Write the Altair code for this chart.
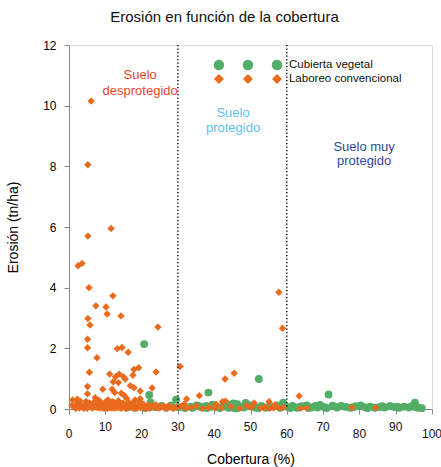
import altair as alt
import pandas as pd

# ---- data ----
# Laboreo convencional (orange diamonds): (cobertura %, erosion tn/ha)
laboreo_points = [
    (6.1, 10.15), (5.2, 8.05), (5.2, 5.7), (11.6, 5.95), (2.5, 4.72), (3.6, 4.8),
    (5.5, 4.0), (12.1, 3.73), (7.4, 3.4), (10.2, 3.36), (10.5, 3.13), (14.3, 3.07),
    (5.2, 2.98), (5.8, 2.77), (24.5, 2.7), (5.1, 2.3), (5.1, 2.02), (13.3, 1.99),
    (14.6, 2.03), (7.7, 1.69), (16.3, 1.87), (30.6, 1.40), (17.9, 1.3), (19.2, 1.36),
    (5.6, 1.21), (11.2, 1.15), (13.8, 1.15), (12.8, 1.06), (15.0, 1.06), (15.5, 0.99),
    (17.6, 1.11), (24.0, 1.22), (12.2, 0.9), (13.6, 0.87), (16.9, 0.77), (17.9, 0.7),
    (5.1, 0.74), (5.1, 0.5), (9.3, 0.65), (11.9, 0.65), (12.6, 0.54), (14.4, 0.52),
    (15.2, 0.45), (19.6, 0.59), (22.9, 0.69), (1.0, 0.3), (2.3, 0.32), (7.2, 0.37),
    (15.9, 0.35), (19.6, 0.34), (18.2, 0.3), (32.4, 0.33), (35.9, 0.44), (43.0, 0.99),
    (45.5, 1.18), (57.8, 3.85), (58.8, 2.66), (63.4, 0.43), (31.7, 0.16), (40.5, 0.16),
    (42.3, 0.24), (43.1, 0.26), (51.0, 0.2), (55.1, 0.24), (48.9, 0.11), (56.7, 0.13),
    (77.9, 0.05), (63.7, 0.02),
    (1.5, 0.05), (2.2, 0.20), (2.9, 0.03), (3.4, 0.12), (4.1, 0.02), (4.7, 0.25),
    (5.3, 0.08), (5.9, 0.15), (6.4, 0.03), (6.9, 0.22), (7.4, 0.10), (7.9, 0.04),
    (8.3, 0.28), (8.8, 0.14), (9.2, 0.06), (9.6, 0.02), (10.0, 0.18), (10.4, 0.09),
    (10.8, 0.30), (11.2, 0.05), (11.6, 0.13), (12.0, 0.24), (12.4, 0.03), (12.8, 0.16),
    (13.2, 0.07), (13.6, 0.27), (14.0, 0.11), (14.4, 0.02), (14.9, 0.19), (15.4, 0.08),
    (15.9, 0.04), (16.4, 0.22), (17.0, 0.12), (17.6, 0.03), (18.2, 0.15), (18.8, 0.06),
    (19.5, 0.25), (20.2, 0.09), (21.0, 0.02), (21.8, 0.13), (22.6, 0.05), (23.4, 0.10),
    (24.3, 0.03), (25.3, 0.07), (26.4, 0.04), (27.5, 0.11), (28.6, 0.02), (29.6, 0.06),
    (30.8, 0.08), (32.2, 0.03), (33.6, 0.05), (35.0, 0.10), (36.8, 0.02), (38.5, 0.06),
    (40.2, 0.03), (42.0, 0.04), (44.6, 0.08), (47.0, 0.02), (50.2, 0.05), (52.8, 0.03),
    (54.0, 0.06), (55.2, 0.02), (56.4, 0.04), (57.8, 0.03), (59.0, 0.05), (65.5, 0.03),
    (84.5, 0.04),
    (0.8, 0.12), (1.9, 0.02), (2.6, 0.10), (3.1, 0.26), (3.8, 0.07), (4.4, 0.15),
    (5.0, 0.02), (5.6, 0.20), (6.2, 0.10), (6.7, 0.05), (7.2, 0.16), (7.7, 0.25),
    (8.1, 0.08), (8.6, 0.03), (9.0, 0.20), (9.4, 0.12), (9.9, 0.05), (10.3, 0.26),
    (10.6, 0.02), (11.0, 0.17), (11.4, 0.09), (11.8, 0.03), (12.2, 0.12), (12.6, 0.21),
    (13.0, 0.04), (13.4, 0.14), (13.8, 0.05), (14.2, 0.20), (14.7, 0.08), (15.2, 0.14),
    (15.7, 0.02), (16.2, 0.10), (16.8, 0.05), (17.3, 0.18), (17.9, 0.08), (18.5, 0.02),
    (19.1, 0.12), (19.8, 0.05), (20.6, 0.15), (21.4, 0.07), (22.2, 0.02), (23.0, 0.08),
    (24.0, 0.13), (25.0, 0.03), (26.0, 0.09), (27.0, 0.02), (28.0, 0.07), (29.0, 0.03),
]

# Cubierta vegetal (green circles)
cubierta_points = [
    (20.7, 2.14), (22.1, 0.46), (22.5, 0.22), (29.5, 0.31), (38.4, 0.54), (52.3, 0.99),
    (71.5, 0.48), (95.3, 0.21), (48.7, 0.2), (59.0, 0.21), (16.9, 0.12), (43.5, 0.16),
    (15.8, 0.05), (17.0, 0.10), (18.3, 0.04), (19.6, 0.08), (21.0, 0.03), (23.8, 0.06),
    (25.5, 0.10), (26.8, 0.04), (28.2, 0.12), (30.2, 0.06), (32.0, 0.03), (33.5, 0.08),
    (35.2, 0.12), (36.6, 0.05), (37.8, 0.10), (39.5, 0.14), (40.8, 0.06), (42.4, 0.10),
    (44.0, 0.04), (45.3, 0.18), (46.4, 0.16), (47.5, 0.07), (49.8, 0.12), (51.4, 0.05),
    (53.0, 0.10), (54.2, 0.04), (56.0, 0.08), (57.3, 0.12), (60.4, 0.06), (61.6, 0.10),
    (62.8, 0.04), (64.2, 0.09), (65.5, 0.12), (66.8, 0.05), (67.9, 0.10), (69.2, 0.13),
    (70.4, 0.06), (72.6, 0.11), (73.8, 0.05), (75.0, 0.10), (76.3, 0.07), (77.6, 0.04),
    (79.0, 0.09), (80.4, 0.12), (81.7, 0.05), (83.0, 0.08), (84.3, 0.04), (85.6, 0.07),
    (87.0, 0.05), (88.5, 0.10), (89.8, 0.06), (91.0, 0.04), (92.3, 0.08), (93.6, 0.05),
    (94.4, 0.09), (96.2, 0.04), (97.2, 0.03),
    (34.0, 0.04), (36.0, 0.09), (38.0, 0.03), (39.0, 0.07), (41.5, 0.03), (43.0, 0.08),
    (45.0, 0.05), (46.0, 0.02), (48.2, 0.05), (50.5, 0.08), (52.0, 0.03), (55.0, 0.06),
    (58.2, 0.04), (61.0, 0.03), (63.5, 0.07), (66.0, 0.03), (68.5, 0.05), (71.0, 0.03),
    (74.4, 0.08), (78.2, 0.06), (82.3, 0.03), (86.3, 0.09), (90.4, 0.08), (95.6, 0.06),
]

thresholds = [30, 60]
x_ticks = list(range(0, 101, 10))
x_labels_high = [10, 30, 50, 70, 90]
x_labels_low = [0, 20, 40, 60, 80, 100]
y_ticks = list(range(0, 13, 2))

zone_lines = ["Suelo", "desprotegido", "Suelo", "protegido", "Suelo muy", "protegido"]
zone_x = [19.6, 19.6, 45.2, 45.2, 81.3, 81.3]
zone_y = [11.0, 10.48, 9.76, 9.26, 8.64, 8.16]
zone_color = ["#E8472E", "#E8472E", "#5BC3EE", "#5BC3EE", "#33489C", "#33489C"]

legend_sym_x = [41.3, 49.3, 57.3]
legend_labels = ["Cubierta vegetal", "Laboreo convencional"]
legend_y = [11.34, 10.88]
legend_text_x = 60.6

ORANGE = "#EA6A1E"
GREEN = "#52AD66"
FONT = "Liberation Sans"
H = 364

lab = pd.DataFrame(laboreo_points, columns=["cob", "ero"])
cub = pd.DataFrame(cubierta_points, columns=["cob", "ero"])

xscale = alt.Scale(domain=[0, 100], nice=False, zero=True)
yscale = alt.Scale(domain=[0, 12], nice=False)

x_axis = alt.Axis(
    values=x_ticks, title="Cobertura (%)", grid=False, tickSize=5,
    labels=False, titleFontSize=14, titleFontWeight="normal", titlePadding=38,
)
y_axis = alt.Axis(
    values=y_ticks, title="Erosión (tn/ha)", grid=False, tickSize=5,
    labelPadding=8, labelFontSize=12, titleFontSize=14, titleFontWeight="normal",
    titlePadding=22, labelOverlap=False,
)

X = alt.X("cob:Q", scale=xscale, axis=x_axis)
Y = alt.Y("ero:Q", scale=yscale, axis=y_axis)

green_layer = alt.Chart(cub).mark_circle(size=62, color=GREEN, opacity=1).encode(x=X, y=Y)
orange_layer = alt.Chart(lab).mark_point(
    shape="diamond", filled=True, size=55, color=ORANGE, opacity=1
).encode(x=X, y=Y)

rules = alt.Chart(pd.DataFrame({"cob": thresholds})).mark_rule(
    color="black", strokeDash=[1.2, 2.3], strokeWidth=1.4
).encode(x=X)

zones = alt.Chart(pd.DataFrame({"cob": zone_x, "ero": zone_y, "t": zone_lines, "c": zone_color})).mark_text(
    fontSize=13, font=FONT, align="center", baseline="middle"
).encode(x=X, y=Y, text="t:N", color=alt.Color("c:N", scale=None))

leg_green = alt.Chart(pd.DataFrame({"cob": legend_sym_x, "ero": [legend_y[0]] * 3})).mark_circle(
    size=110, color=GREEN, opacity=1
).encode(x=X, y=Y)
leg_orange = alt.Chart(pd.DataFrame({"cob": legend_sym_x, "ero": [legend_y[1]] * 3})).mark_point(
    shape="diamond", filled=True, size=100, color=ORANGE, opacity=1
).encode(x=X, y=Y)
leg_text = alt.Chart(pd.DataFrame({"cob": [legend_text_x] * 2, "ero": legend_y, "t": legend_labels})).mark_text(
    fontSize=11.5, font=FONT, align="left", baseline="middle", color="#111"
).encode(x=X, y=Y, text="t:N")

# staggered x tick labels
tick_hi = alt.Chart(pd.DataFrame({"cob": x_labels_high})).mark_text(
    fontSize=12, font=FONT, color="#111", baseline="middle", dy=17.5
).encode(x=X, y=alt.value(H), text=alt.Text("cob:Q", format="d"))
tick_lo = alt.Chart(pd.DataFrame({"cob": x_labels_low})).mark_text(
    fontSize=12, font=FONT, color="#111", baseline="middle", dy=25
).encode(x=X, y=alt.value(H), text=alt.Text("cob:Q", format="d"))

chart = alt.layer(
    green_layer, orange_layer, rules, zones, leg_green, leg_orange, leg_text, tick_hi, tick_lo
).properties(
    width=363, height=H,
    title=alt.TitleParams("Erosión en función de la cobertura", fontSize=15, font=FONT,
                          fontWeight="normal", color="#111", dx=-26, offset=14),
    autosize=alt.AutoSizeParams(type="none"),
    padding={"left": 69, "top": 45, "right": 9, "bottom": 58},
).configure_view(stroke=None).configure_axis(
    domainColor="#333", domainWidth=1.5, tickColor="#333", tickWidth=1.5,
    labelColor="#111", titleColor="#111", labelFont=FONT, titleFont=FONT,
    titleFontWeight="normal",
).configure(background="white")

chart.save("out.html", embed_options={"renderer": "svg", "actions": False})
